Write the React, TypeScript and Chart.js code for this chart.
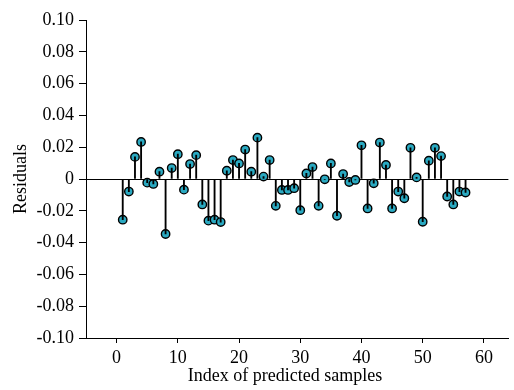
import React, { useEffect, useRef } from "react";
import { Chart, registerables } from "chart.js";

Chart.register(...registerables);

// Sample index (1..57) and the residual for each predicted sample
const sampleIndex: number[] = Array.from({ length: 57 }, (_, i) => i + 1);
const residuals: number[] = [
  -0.0256, -0.0079, 0.0139, 0.0233, -0.0023, -0.0031, 0.0046, -0.0346, 0.0069, 0.0156,
  -0.0067, 0.0094, 0.015, -0.016, -0.0262, -0.0256, -0.0271, 0.0052, 0.0119, 0.0098,
  0.0185, 0.0046, 0.026, 0.0015, 0.0119, -0.0169, -0.0069, -0.0069, -0.0058, -0.0196,
  0.0035, 0.0075, -0.0169, -0.0002, 0.0098, -0.0231, 0.0031, -0.0019, -0.0006, 0.0212,
  -0.0185, -0.0027, 0.0229, 0.0088, -0.0185, -0.0079, -0.0121, 0.0196, 0.001, -0.0269,
  0.0115, 0.0196, 0.0144, -0.011, -0.016, -0.0079, -0.0085,
];
const xTicks: number[] = [0, 10, 20, 30, 40, 50, 60];
const yTicks: number[] = [-0.1, -0.08, -0.06, -0.04, -0.02, 0, 0.02, 0.04, 0.06, 0.08, 0.1];
const xTitle = "Index of predicted samples";
const yTitle = "Residuals";

const FONT = "'Liberation Serif', 'Times New Roman', serif";
const FONT_SIZE = 18;

// Draws the x-axis title a little left of the plot centre
const xTitlePlugin = {
  id: "xTitle",
  afterDraw(chart: any) {
    const { ctx, chartArea } = chart;
    ctx.save();
    ctx.fillStyle = "#000";
    ctx.font = `${FONT_SIZE}px ${FONT}`;
    ctx.textAlign = "center";
    ctx.textBaseline = "alphabetic";
    const cx = chartArea.left + (chartArea.right - chartArea.left) * 0.471;
    ctx.fillText(xTitle, cx, chartArea.bottom + 43);
    ctx.restore();
  },
};

export default function App() {
  const ref = useRef<HTMLCanvasElement | null>(null);

  useEffect(() => {
    if (!ref.current) return;
    const points = sampleIndex.map((x, i) => ({ x, y: residuals[i] }));
    const chart = new Chart(ref.current, {
      type: "bar",
      data: {
        datasets: [
          {
            type: "bar",
            data: points,
            backgroundColor: "#000",
            barThickness: 1.2,
            order: 1,
          } as any,
          {
            type: "scatter",
            data: points,
            pointRadius: 4.2,
            pointBackgroundColor: "#2aa9c1",
            pointBorderColor: "#000",
            pointBorderWidth: 1.4,
            showLine: false,
            order: 2,
          } as any,
        ],
      },
      plugins: [xTitlePlugin],
      options: {
        animation: false,
        responsive: false,
        maintainAspectRatio: false,
        layout: { padding: { top: 20, right: 0, left: 0, bottom: 0 } },
        plugins: { legend: { display: false }, tooltip: { enabled: false } },
        scales: {
          x: {
            type: "linear",
            min: -5,
            max: 64,
            offset: false,
            afterBuildTicks: (s: any) => {
              s.ticks = xTicks.map((v) => ({ value: v }));
            },
            afterFit: (s: any) => {
              s.height = 52;
            },
            grid: {
              display: true,
              drawOnChartArea: false,
              offset: false,
              tickLength: 5,
              tickColor: "#000",
            },
            border: { display: true, color: "#000", width: 1 },
            ticks: {
              color: "#000",
              padding: 4,
              maxRotation: 0,
              font: { family: FONT, size: FONT_SIZE },
            },
          },
          y: {
            type: "linear",
            min: -0.1,
            max: 0.1,
            afterBuildTicks: (s: any) => {
              s.ticks = yTicks.map((v) => ({ value: v }));
            },
            afterFit: (s: any) => {
              s.width = 86;
            },
            grid: {
              display: true,
              drawOnChartArea: true,
              color: (c: any) =>
                c.tick && Math.abs(c.tick.value) < 1e-9 ? "#000" : "rgba(0,0,0,0)",
              lineWidth: 1,
              tickLength: 7,
              tickColor: "#000",
            },
            border: { display: true, color: "#000", width: 1 },
            ticks: {
              color: "#000",
              padding: 5,
              font: { family: FONT, size: FONT_SIZE },
              callback: (v: any) => {
                const n = Number(v);
                return Math.abs(n) < 1e-9 ? "0" : n.toFixed(2);
              },
            },
            title: {
              display: true,
              text: yTitle,
              color: "#000",
              padding: { top: 10, bottom: 0 },
              font: { family: FONT, size: FONT_SIZE },
            },
          },
        },
      },
    });
    return () => chart.destroy();
  }, []);

  return (
    <div style={{ position: "fixed", left: 0, top: 0, width: 514, height: 390, background: "#fff" }}>
      <canvas ref={ref} width={514} height={390} style={{ display: "block" }} />
    </div>
  );
}
